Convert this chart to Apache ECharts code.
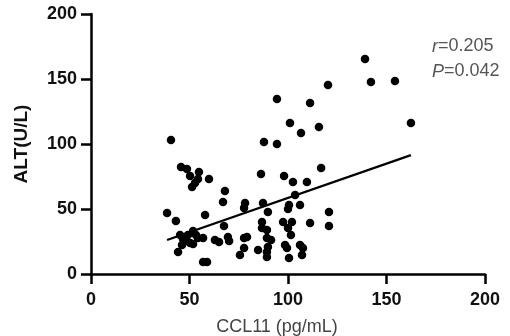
<!DOCTYPE html>
<html>
<head>
<meta charset="utf-8">
<script src="https://cdn.jsdelivr.net/npm/echarts@6/dist/echarts.min.js"></script>
<style>html,body{margin:0;padding:0;background:#fff}#c{width:510px;height:336px}</style>
</head>
<body>
<div id="c"></div>
<script>
const ccl11 = [139.1,142.1,154.3,162.4,120.3,111.2,94.4,101.0,106.6,115.7,87.8,94.4,116.8,40.6,
  45.7,48.7,50.3,54.8,54.3,52.8,51.3,59.9,68.0,67.0,38.6,57.9,78.2,77.7,
  86.3,98.0,102.5,109.6,103.6,87.3,89.8,100.5,100.0,106.1,120.8,
  43.1,67.5,51.8,49.2,46.7,54.3,50.3,46.2,51.8,56.9,44.2,65.0,69.5,56.9,58.9,75.6,79.2,
  120.8,111.2,97.5,102.0,86.8,86.8,89.3,100.0,101.5,77.7,91.4,89.8,89.3,89.3,84.8,77.7,
  98.5,99.5,106.1,107.6,107.1,100.5,89.3,70.1,62.9,48.2,53.3,45.2];
const altValues = [165.4,147.7,148.5,116.2,145.4,131.5,134.6,116.2,108.5,113.1,101.5,100.0,81.5,103.1,
  82.3,80.8,75.4,78.5,73.1,70.0,66.9,73.1,63.8,55.4,46.9,45.4,54.6,50.8,
  76.9,75.4,70.8,70.8,60.8,54.6,47.7,53.1,50.0,53.1,47.7,
  40.8,36.9,33.1,30.0,26.9,27.7,23.8,22.3,23.1,27.7,16.9,24.6,28.5,9.2,9.2,14.6,28.5,
  36.9,39.2,40.0,40.0,40.0,35.4,33.8,35.4,30.0,27.7,26.2,20.8,16.9,13.1,18.5,20.0,
  22.3,20.0,22.3,20.0,14.6,12.3,27.7,25.4,26.2,26.2,30.0,30.0];
const fitSlope = 0.527;
const fitIntercept = 5.86;
const statLabels = ['r', '=0.205', 'P', '=0.042'];

const points = ccl11.map((x, i) => [x, altValues[i]]);
const xMin = Math.min(...ccl11), xMax = Math.max(...ccl11);
const fitLine = [[xMin, fitIntercept + fitSlope * xMin], [xMax, fitIntercept + fitSlope * xMax]];

const chart = echarts.init(document.getElementById('c'));
const axisFont = {fontFamily: 'Liberation Sans, Arial, sans-serif', fontWeight: 'bold', fontSize: 18, color: '#111'};
chart.setOption({
  animation: false,
  grid: {left: 91, right: 25, top: 14, bottom: 62, containLabel: false, outerBoundsMode: 'none'},
  xAxis: {
    type: 'value', min: 0, max: 200, interval: 50,
    name: 'CCL11 (pg/mL)', nameLocation: 'middle', nameGap: 44,
    nameTextStyle: {fontFamily: 'Liberation Sans, Arial, sans-serif', fontSize: 18, color: '#444', padding: [0, 22, 0, 0]},
    axisLine: {onZero: false, lineStyle: {color: '#000', width: 2.5}},
    axisTick: {show: true, length: 10, lineStyle: {color: '#000', width: 2.5}},
    axisLabel: Object.assign({margin: 17}, axisFont),
    splitLine: {show: false}
  },
  yAxis: {
    type: 'value', min: 0, max: 200, interval: 50,
    name: 'ALT(U/L)', nameLocation: 'middle', nameGap: 60,
    nameTextStyle: {fontFamily: 'Liberation Sans, Arial, sans-serif', fontWeight: 'bold', fontSize: 19, color: '#111'},
    axisLine: {show: true, onZero: false, lineStyle: {color: '#000', width: 2.5}},
    axisTick: {show: true, length: 10, lineStyle: {color: '#000', width: 2.5}},
    axisLabel: Object.assign({margin: 14}, axisFont),
    splitLine: {show: false}
  },
  series: [
    {type: 'scatter', data: points, symbolSize: 8.5, itemStyle: {color: '#000', opacity: 1}},
    {type: 'line', data: fitLine, showSymbol: false, symbol: 'none', lineStyle: {color: '#000', width: 2.2}}
  ],
  graphic: [
    {type: 'text', left: 432, top: 34, style: {
      text: '{i|' + statLabels[0] + '}{n|' + statLabels[1] + '}\n{i|' + statLabels[2] + '}{n|' + statLabels[3] + '}',
      lineHeight: 25,
      rich: {
        i: {fontFamily: 'Liberation Sans, Arial, sans-serif', fontStyle: 'italic', fontSize: 18, fill: '#555', lineHeight: 25},
        n: {fontFamily: 'Liberation Sans, Arial, sans-serif', fontSize: 18, fill: '#555', lineHeight: 25}
      }
    }}
  ]
});
</script>
</body>
</html>
